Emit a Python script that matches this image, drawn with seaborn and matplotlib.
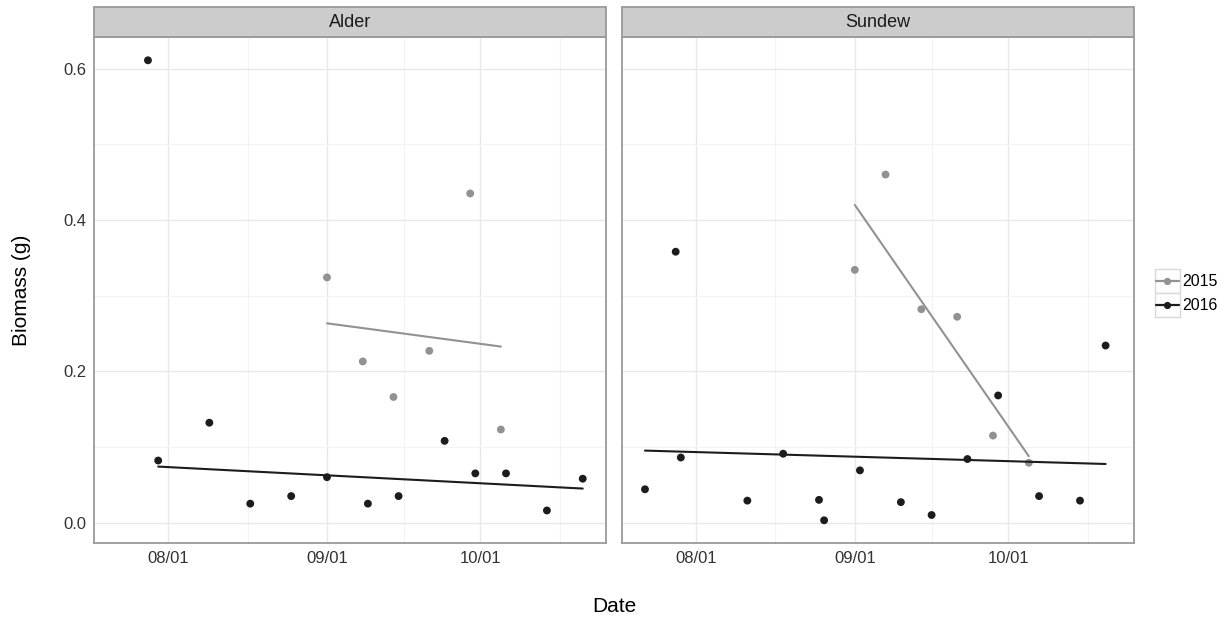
import numpy as np
import pandas as pd
import matplotlib
matplotlib.use("Agg")
import matplotlib.pyplot as plt
import matplotlib.dates as mdates
from matplotlib.patches import Rectangle
from matplotlib.lines import Line2D
import seaborn as sns

# ---- data (month-day of sampling, biomass in grams) ----
sites = ["Alder", "Sundew"]
years = ["2015", "2016"]

alder_2015_dates = ["09-01", "09-08", "09-14", "09-21", "09-29", "10-05"]
alder_2015_biomass = [0.324, 0.213, 0.166, 0.227, 0.435, 0.123]

alder_2016_dates = ["07-30", "08-09", "08-17", "08-25", "09-01", "09-09",
                    "09-15", "09-24", "09-30", "10-06", "10-14", "10-21"]
alder_2016_biomass = [0.082, 0.132, 0.025, 0.035, 0.060, 0.025,
                      0.035, 0.108, 0.065, 0.065, 0.016, 0.058]
# early high reading: plotted, but left out of the trend fit
alder_2016_extra_dates = ["07-28"]
alder_2016_extra_biomass = [0.611]

sundew_2015_dates = ["09-01", "09-07", "09-14", "09-21", "09-28", "10-05"]
sundew_2015_biomass = [0.334, 0.460, 0.282, 0.272, 0.115, 0.079]

sundew_2016_dates = ["07-22", "07-28", "07-29", "08-11", "08-18", "08-25",
                     "08-26", "09-02", "09-10", "09-16", "09-23", "09-29",
                     "10-07", "10-15", "10-20"]
sundew_2016_biomass = [0.044, 0.358, 0.086, 0.029, 0.091, 0.030,
                       0.003, 0.069, 0.027, 0.010, 0.084, 0.168,
                       0.035, 0.029, 0.234]

month_breaks = ["07-01", "08-01", "09-01", "10-01", "11-01"]
y_breaks = [0.0, 0.2, 0.4, 0.6]
y_minor = [0.1, 0.3, 0.5]

palette = {"2015": "#929292", "2016": "#1c1c1c"}


def frame(site, year, dates, values, fit=True):
    d = pd.to_datetime([f"2016-{m}" for m in dates])
    return pd.DataFrame({"site": site, "year": year, "date": d,
                         "biomass": values, "fit": fit})


df = pd.concat([
    frame("Alder", "2015", alder_2015_dates, alder_2015_biomass),
    frame("Alder", "2016", alder_2016_dates, alder_2016_biomass),
    frame("Alder", "2016", alder_2016_extra_dates, alder_2016_extra_biomass, fit=False),
    frame("Sundew", "2015", sundew_2015_dates, sundew_2015_biomass),
    frame("Sundew", "2016", sundew_2016_dates, sundew_2016_biomass),
], ignore_index=True)
df["x"] = mdates.date2num(df["date"])

# ---- figure ----
sns.set_theme(style="white")
plt.rcParams["font.family"] = ["Liberation Sans", "DejaVu Sans"]

W, H = 1232, 619
fig = plt.figure(figsize=(W / 100, H / 100), dpi=100)


def box(l, t, r, b):
    return [l / W, 1 - b / H, (r - l) / W, (b - t) / H]


ax1 = fig.add_axes(box(94, 37.3, 606, 543.3))
ax2 = fig.add_axes(box(621.7, 37.3, 1134, 543.3), sharex=ax1, sharey=ax1)
axes = [ax1, ax2]

# shared limits with 5% padding on each side
xmin, xmax = df["x"].min(), df["x"].max()
ymin, ymax = df["biomass"].min(), df["biomass"].max()
xpad, ypad = 0.05 * (xmax - xmin), 0.05 * (ymax - ymin)

major_x = mdates.date2num(pd.to_datetime([f"2016-{m}" for m in month_breaks]))
minor_x = (major_x[:-1] + major_x[1:]) / 2

panel_h = 506.0
strip_h = 30.0 / panel_h

for ax, site in zip(axes, sites):
    sub = df[df["site"] == site]
    sns.scatterplot(data=sub, x="x", y="biomass", hue="year", palette=palette,
                    hue_order=years, s=32, edgecolor="none", linewidth=0,
                    legend=False, ax=ax, zorder=2)
    for yr in years:
        fit = sub[(sub["year"] == yr) & sub["fit"]]
        sns.regplot(data=fit, x="x", y="biomass", scatter=False, ci=None,
                    truncate=True, color=palette[yr],
                    line_kws=dict(lw=1.5, zorder=3), ax=ax)

    ax.set_xticks(major_x)
    ax.set_xticks(minor_x, minor=True)
    ax.xaxis.set_major_formatter(mdates.DateFormatter("%m/%d"))
    ax.set_yticks(y_breaks)
    ax.set_yticks(y_minor, minor=True)
    ax.yaxis.set_major_formatter(matplotlib.ticker.FormatStrFormatter("%.1f"))

    ax.set_axisbelow(True)
    ax.grid(which="major", color="#E8E8E8", lw=1.0)
    ax.grid(which="minor", color="#F3F3F3", lw=0.8)
    ax.set_facecolor("white")
    for sp in ax.spines.values():
        sp.set_color("#9A9A9A")
        sp.set_linewidth(1.3)

    ax.tick_params(which="major", length=3.2, width=0.9, color="#555555",
                   labelsize=12, labelcolor="#333333", pad=2.0)
    ax.tick_params(which="minor", length=0)
    ax.set_xlabel("")
    ax.set_ylabel("")

    # facet strip
    ax.add_patch(Rectangle((0, 1), 1, strip_h, transform=ax.transAxes,
                           clip_on=False, facecolor="#CCCCCC",
                           edgecolor="#9A9A9A", lw=1.3, zorder=5))
    ax.text(0.5, 1 + strip_h / 2, site, transform=ax.transAxes,
            ha="center", va="center", fontsize=13, color="#1A1A1A", zorder=6)

# limits are applied after the ticks so the outer month breaks stay hidden
ax1.set_xlim(xmin - xpad, xmax + xpad)
ax1.set_ylim(ymin - ypad, ymax + ypad)

ax2.tick_params(axis="y", which="both", left=False, labelleft=False)

# axis titles
fig.text(22 / W, 1 - 290 / H, "Biomass (g)", rotation=90, ha="center",
         va="center", fontsize=15, color="black")
fig.text(614 / W, 1 - 606 / H, "Date", ha="center", va="center",
         fontsize=15, color="black")

# legend (keys drawn in pixel units)
lax = fig.add_axes(box(1145, 260, 1232, 325))
lax.set_xlim(1145, 1232)
lax.set_ylim(325, 260)
lax.axis("off")
for i, yr in enumerate(years):
    top = 269 + 24 * i
    lax.add_patch(Rectangle((1154.5, top), 25.5, 24, facecolor="white",
                            edgecolor="#D9D9D9", lw=1.0))
    cy = top + 12
    lax.add_line(Line2D([1156, 1178.5], [cy, cy], color=palette[yr], lw=1.6))
    lax.plot([1167.3], [cy], marker="o", ms=5.2, color=palette[yr],
             markeredgewidth=0)
    lax.text(1182.5, cy, yr, ha="left", va="center", fontsize=11.5,
             color="black")

fig.savefig("out.png", dpi=100, facecolor="white")
